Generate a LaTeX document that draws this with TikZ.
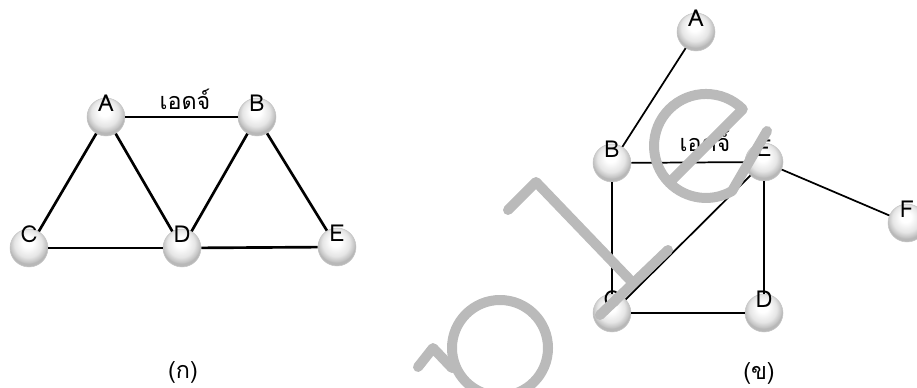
\documentclass[tikz,border=0pt]{standalone}
\usepackage{fontspec}
\setmainfont{Loma}[Script=Thai]
\pgfdeclareradialshading{sphereshade}{\pgfpoint{-2bp}{9bp}}{color(0bp)=(white); color(7bp)=(white); color(18bp)=(black!10); color(24bp)=(black!24); color(25bp)=(black!28); color(50bp)=(black!28)}
\begin{document}
\begin{tikzpicture}[x=0.75pt,y=-0.75pt,
  ball/.style={circle,minimum size=28.5pt,inner sep=0pt,shading=sphereshade,draw=black!22,line width=0.4pt},
  lbl/.style={font=\fontsize{17.5}{17.5}\selectfont,inner sep=0pt},
  edgeL/.style={line width=2pt},
  edgeR/.style={line width=1.3pt},
  wm/.style={line width=7.5pt,draw=black!27,line cap=round,line join=round}]
\useasboundingbox (0,0) rectangle (917,388);
\clip (0,0) rectangle (917,388);
% left graph
\node[ball,label={[lbl,yshift=10.5pt]center:A}] (a1) at (106,117) {};
\node[ball,label={[lbl,yshift=10.5pt]center:B}] (b1) at (257,117) {};
\node[ball,label={[lbl,yshift=10.5pt]center:C}] (c1) at (29,248) {};
\node[ball,label={[lbl,yshift=10.5pt]center:D}] (d1) at (182,248) {};
\node[ball,label={[lbl,yshift=10.5pt]center:E}] (e1) at (337,247) {};
\begin{scope}[edgeL]
\draw (a1) -- (b1);
\draw (a1) -- (c1);
\draw (a1) -- (d1);
\draw (b1) -- (d1);
\draw (b1) -- (e1);
\draw (c1) -- (d1);
\draw (d1) -- (e1);
\end{scope}
\node[lbl,anchor=base] (el1) at (185,110) {เอดจ์};
\node[lbl] (cap1) at (183,372) {(ก)};
% right graph
\node[ball,label={[lbl,yshift=10.5pt]center:A}] (a2) at (696,32) {};
\node[ball,label={[lbl,yshift=10.5pt]center:B}] (b2) at (612,163) {};
\node[ball,label={[lbl,yshift=10.5pt]center:E}] (e2) at (764,162) {};
\node[ball,label={[lbl,yshift=10.5pt]center:F}] (f2) at (907,223) {};
\node[ball,label={[lbl,yshift=10.5pt]center:C}] (c2) at (612,313) {};
\node[ball,label={[lbl,yshift=10.5pt]center:D}] (d2) at (764,313) {};
\begin{scope}[edgeR]
\draw (a2) -- (b2);
\draw (b2) -- (e2);
\draw (b2) -- (c2);
\draw (e2) -- (d2);
\draw (e2) -- (c2);
\draw (c2) -- (d2);
\draw (e2) -- (f2);
\end{scope}
\node[lbl,anchor=base] (el2) at (705,152) {เอดจ์};
\node[lbl] (cap2) at (759,373) {(ข)};
% watermark
\draw[wm] (500,348) circle[radius=48];
\draw[wm] (452,368) -- (433,348) -- (418,367);
\draw[wm] (508,210) -- (536,182) -- (632,282);
\draw[wm] (600,315) -- (668,250);
\draw[wm] (669.2,182.8) -- (742.8,109.2) arc[start angle=-45,end angle=-300,radius=52] -- (767,131);
\end{tikzpicture}
\end{document}
